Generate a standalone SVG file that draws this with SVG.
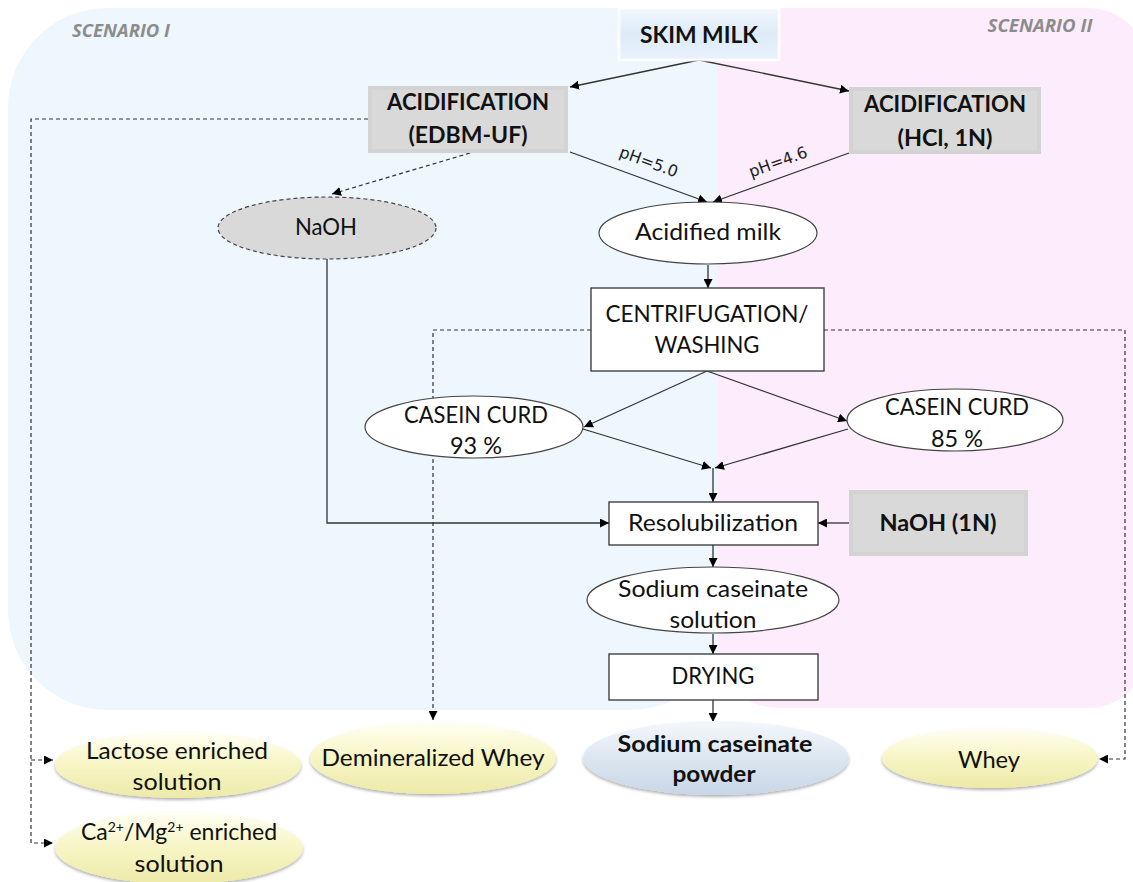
<svg xmlns="http://www.w3.org/2000/svg" width="1133" height="882" viewBox="0 0 1133 882">
<defs>
<marker id="ah" viewBox="0 0 10 10" refX="10" refY="5" markerWidth="9" markerHeight="9" markerUnits="userSpaceOnUse" orient="auto">
<path d="M0,0 L10,5 L0,10 z" fill="#000"/>
</marker>
<linearGradient id="yel" x1="0" y1="0" x2="0" y2="1">
<stop offset="0" stop-color="#FFFFF4"/>
<stop offset="0.45" stop-color="#F8F6C8"/>
<stop offset="1" stop-color="#EDEAA8"/>
</linearGradient>
<linearGradient id="blu" x1="0" y1="0" x2="0" y2="1">
<stop offset="0" stop-color="#F4F8FC"/>
<stop offset="0.5" stop-color="#DCE6F1"/>
<stop offset="1" stop-color="#C8D6E6"/>
</linearGradient>
<linearGradient id="skim" x1="0" y1="0" x2="0" y2="1">
<stop offset="0" stop-color="#F2F8FE"/>
<stop offset="0.5" stop-color="#DDEBF8"/>
<stop offset="1" stop-color="#E8F2FC"/>
</linearGradient>
<filter id="sh" x="-10%" y="-20%" width="120%" height="150%">
<feDropShadow dx="0" dy="2" stdDeviation="1.5" flood-color="#000" flood-opacity="0.3"/>
</filter>
<style>
.t{font-family:Lato,"Liberation Sans",sans-serif;font-size:23px;fill:#111;text-anchor:middle}
.b{font-weight:bold}
.sc{font-family:"Open Sans","Liberation Sans",sans-serif;font-size:18px;font-weight:bold;font-style:italic;fill:#8C8C8C;text-anchor:middle}
.ln{fill:none;stroke:#333;stroke-width:1.3;marker-end:url(#ah)}
.dl{fill:none;stroke:#333;stroke-width:1.2;stroke-dasharray:4,3}
.box{fill:#fff;stroke:#333;stroke-width:1.3}
.ell{fill:#fff;stroke:#444;stroke-width:1.2}
.gray{fill:#D3D3D3}
.grayin{fill:#D9D9D9}
.ph{font-family:"DejaVu Sans",sans-serif;font-size:16px;fill:#222;text-anchor:middle}
</style>
</defs>
<g id="background">
<rect x="8" y="8" width="722" height="702" rx="100" ry="100" fill="#EEF6FE"/>
<rect x="718" y="8" width="430" height="700" rx="60" ry="60" fill="#FDEDFC"/>
<rect x="718" y="8" width="60" height="100" fill="#FDEDFC"/>
<text class="sc" x="121" y="37" textLength="98" lengthAdjust="spacingAndGlyphs">SCENARIO I</text>
<text class="sc" x="1040" y="32" textLength="105" lengthAdjust="spacingAndGlyphs">SCENARIO II</text>
</g>
<g id="connectors">
<path class="ln" d="M699,60 L570,87"/>
<path class="ln" d="M699,60 L849,91"/>
<path class="ln" d="M570,152 L707,202"/>
<path class="ln" d="M849,153 L713,202"/>
<path class="dl" d="M470,153 L332,194" marker-end="url(#ah)"/>
<path class="dl" d="M368,119 H31 V843 H53" marker-end="url(#ah)"/>
<path class="dl" d="M31,760 H53" marker-end="url(#ah)"/>
<path class="ln" d="M708,265 V288"/>
<path class="dl" d="M591,330 H433 V720" marker-end="url(#ah)"/>
<path class="dl" d="M824,330 H1125 V759 H1099" marker-end="url(#ah)"/>
<path class="ln" d="M707,371 L584,427"/>
<path class="ln" d="M707,371 L847,421"/>
<path class="ln" d="M583,429 L711,468"/>
<path class="ln" d="M848,429 L715,468"/>
<path class="ln" d="M713,468 V502"/>
<path class="ln" d="M327,259 V523 H609"/>
<path class="ln" d="M849,523 H818"/>
<path class="ln" d="M713,545 V567"/>
<path class="ln" d="M713,634 V654"/>
<path class="ln" d="M713,700 V722"/>
<text class="ph" transform="translate(647,167) rotate(20)">pH=5.0</text>
<text class="ph" transform="translate(780,167) rotate(-20)">pH=4.6</text>
</g>
<g id="skim-milk">
<rect x="619" y="8" width="160" height="52" fill="url(#skim)"/>
<rect x="619" y="8" width="160" height="52" fill="none" stroke="#fff" stroke-width="3" opacity="0.8"/>
<text class="t b" x="699" y="43" font-size="24" textLength="118" lengthAdjust="spacingAndGlyphs">SKIM MILK</text>
</g>
<g id="acid-edbm">
<rect class="gray" x="368" y="86" width="200" height="67"/>
<rect class="grayin" x="372" y="90" width="192" height="59"/>
<text class="t b" x="468" y="110" font-size="22" textLength="162" lengthAdjust="spacingAndGlyphs">ACIDIFICATION</text>
<text class="t b" x="468" y="143" font-size="22" textLength="119" lengthAdjust="spacingAndGlyphs">(EDBM-UF)</text>
</g>
<g id="acid-hcl">
<rect class="gray" x="849" y="87" width="192" height="67"/>
<rect class="grayin" x="853" y="91" width="184" height="59"/>
<text class="t b" x="945" y="112" font-size="22" textLength="162" lengthAdjust="spacingAndGlyphs">ACIDIFICATION</text>
<text class="t b" x="945" y="146" font-size="22" textLength="95" lengthAdjust="spacingAndGlyphs">(HCl, 1N)</text>
</g>
<g id="naoh">
<ellipse cx="327" cy="228" rx="109" ry="31" fill="#D9D9D9" stroke="#444" stroke-width="1.2" stroke-dasharray="4,3"/>
<text class="t" x="326" y="235" textLength="62" lengthAdjust="spacingAndGlyphs">NaOH</text>
</g>
<g id="acidified-milk">
<ellipse class="ell" cx="708" cy="233" rx="109" ry="31"/>
<text class="t" x="708" y="240" textLength="146" lengthAdjust="spacingAndGlyphs">Acidified milk</text>
</g>
<g id="centrifugation">
<rect class="box" x="591" y="288" width="233" height="83"/>
<text class="t" x="707" y="322" textLength="203" lengthAdjust="spacingAndGlyphs">CENTRIFUGATION/</text>
<text class="t" x="707" y="353" textLength="105" lengthAdjust="spacingAndGlyphs">WASHING</text>
</g>
<g id="curd-93">
<ellipse class="ell" cx="474" cy="427" rx="109" ry="31"/>
<text class="t" x="476" y="423" textLength="144" lengthAdjust="spacingAndGlyphs">CASEIN CURD</text>
<text class="t" x="476" y="454" textLength="52" lengthAdjust="spacingAndGlyphs">93 %</text>
</g>
<g id="curd-85">
<ellipse class="ell" cx="955" cy="420" rx="108" ry="31"/>
<text class="t" x="957" y="415" textLength="144" lengthAdjust="spacingAndGlyphs">CASEIN CURD</text>
<text class="t" x="957" y="447" textLength="52" lengthAdjust="spacingAndGlyphs">85 %</text>
</g>
<g id="resolubilization">
<rect class="box" x="609" y="502" width="209" height="43"/>
<text class="t" x="713" y="531" textLength="170" lengthAdjust="spacingAndGlyphs">Resolubilization</text>
</g>
<g id="naoh-1n">
<rect class="gray" x="849" y="490" width="179" height="66"/>
<rect class="grayin" x="853" y="494" width="171" height="58"/>
<text class="t b" x="938" y="531" textLength="117" lengthAdjust="spacingAndGlyphs">NaOH (1N)</text>
</g>
<g id="sodium-solution">
<ellipse class="ell" cx="713" cy="600" rx="126" ry="33"/>
<text class="t" x="713" y="597" textLength="190" lengthAdjust="spacingAndGlyphs">Sodium caseinate</text>
<text class="t" x="713" y="628" textLength="87" lengthAdjust="spacingAndGlyphs">solution</text>
</g>
<g id="drying">
<rect class="box" x="609" y="654" width="209" height="46"/>
<text class="t" x="713" y="684" textLength="83" lengthAdjust="spacingAndGlyphs">DRYING</text>
</g>
<g id="lactose">
<ellipse cx="178" cy="765" rx="123" ry="33" fill="url(#yel)" filter="url(#sh)"/>
<text class="t" x="177" y="759" textLength="182" lengthAdjust="spacingAndGlyphs">Lactose enriched</text>
<text class="t" x="177" y="790" textLength="89" lengthAdjust="spacingAndGlyphs">solution</text>
</g>
<g id="ca-mg">
<ellipse cx="179" cy="848" rx="124" ry="36" fill="url(#yel)" filter="url(#sh)"/>
<text class="t" x="179" y="840" font-size="22.5">Ca<tspan font-size="14" dy="-8">2+</tspan><tspan dy="8">/Mg</tspan><tspan font-size="14" dy="-8">2+</tspan><tspan dy="8"> enriched</tspan></text>
<text class="t" x="179" y="872" textLength="89" lengthAdjust="spacingAndGlyphs">solution</text>
</g>
<g id="demin-whey">
<ellipse cx="433" cy="758" rx="123" ry="36" fill="url(#yel)" filter="url(#sh)"/>
<text class="t" x="433" y="766" textLength="223" lengthAdjust="spacingAndGlyphs">Demineralized Whey</text>
</g>
<g id="sodium-powder">
<ellipse cx="716" cy="758" rx="133" ry="37" fill="url(#blu)" filter="url(#sh)"/>
<text class="t b" x="715" y="752" textLength="195" lengthAdjust="spacingAndGlyphs">Sodium caseinate</text>
<text class="t b" x="714" y="782" textLength="83" lengthAdjust="spacingAndGlyphs">powder</text>
</g>
<g id="whey">
<ellipse cx="990" cy="758" rx="108" ry="30" fill="url(#yel)" filter="url(#sh)"/>
<text class="t" x="989" y="768" textLength="62" lengthAdjust="spacingAndGlyphs">Whey</text>
</g>
</svg>
